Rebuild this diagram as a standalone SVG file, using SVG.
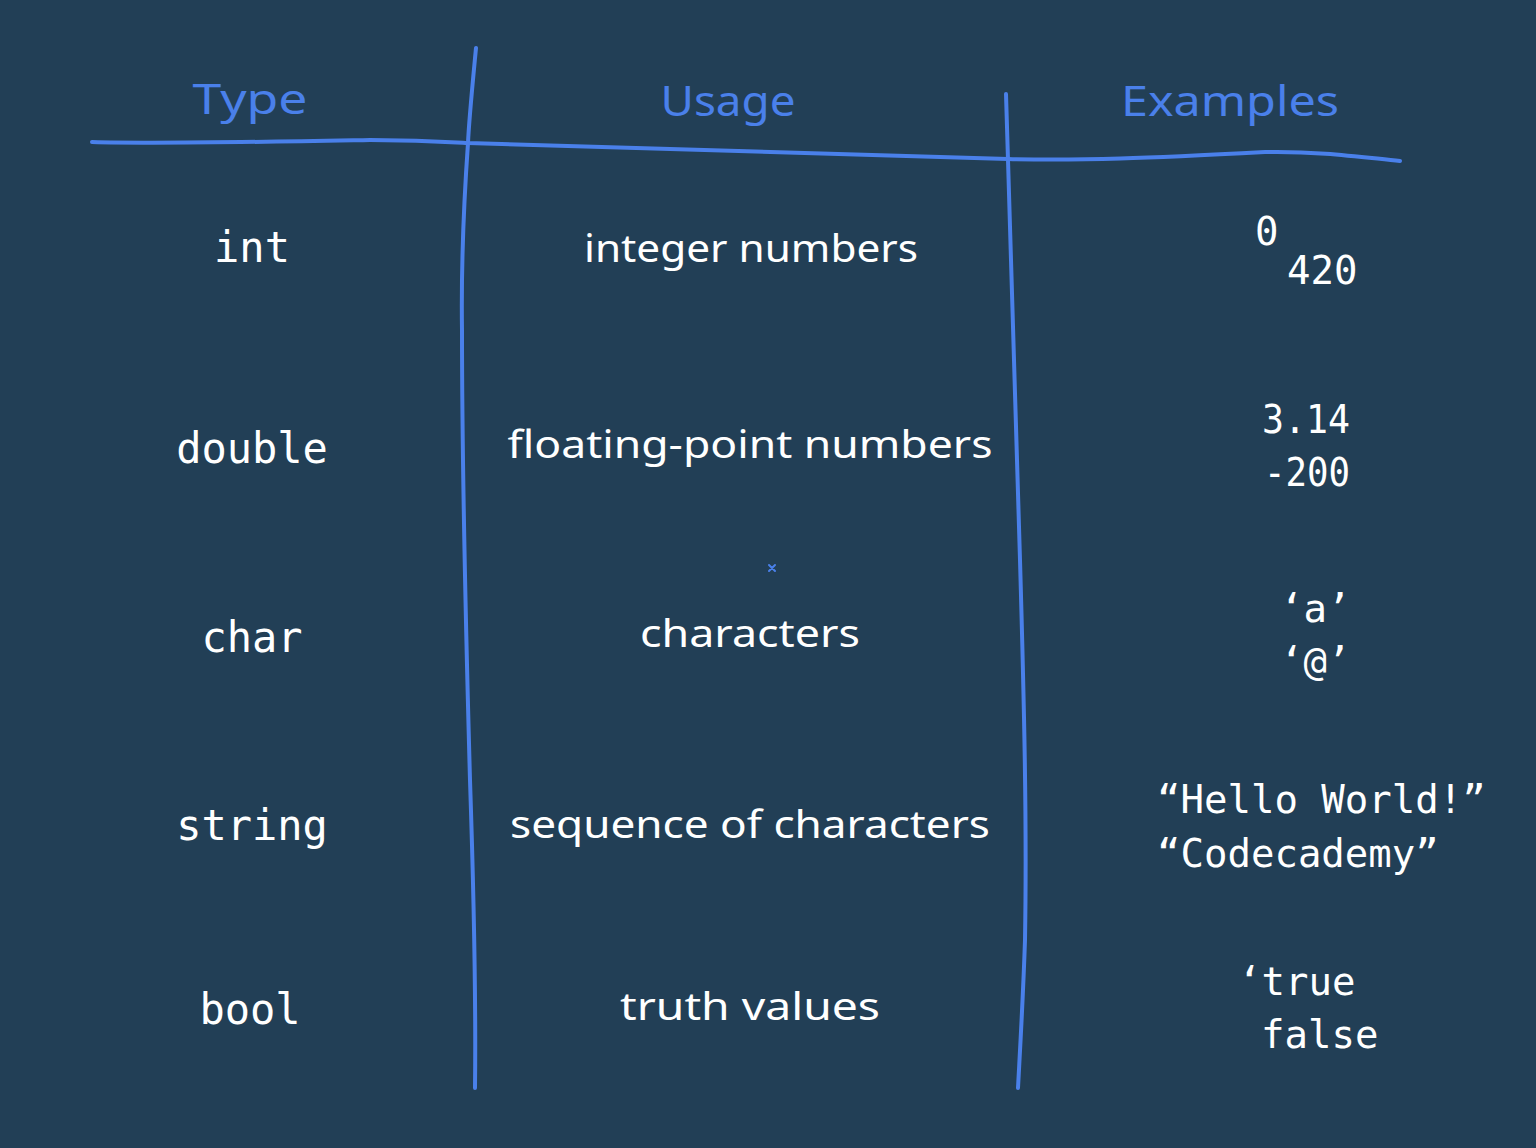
<svg xmlns="http://www.w3.org/2000/svg" width="1536" height="1148" viewBox="0 0 1536 1148">
<style>
.bg{fill:#223f56}
.ln{fill:none;stroke:#4a80ea;stroke-width:4;stroke-linecap:round;stroke-linejoin:round}
.hd{font-family:"Noto Sans","Liberation Sans",sans-serif;font-size:42px;fill:#4a80ea;text-anchor:middle}
.ty{font-family:"DejaVu Sans Mono","Liberation Mono",monospace;font-size:42px;fill:#ffffff;text-anchor:middle}
.us{font-family:"Noto Sans","Liberation Sans",sans-serif;font-size:38px;fill:#ffffff;text-anchor:middle}
.ex{font-family:"DejaVu Sans Mono","Liberation Mono",monospace;font-size:39px;fill:#ffffff}
</style>
<rect class="bg" x="0" y="0" width="1536" height="1148"/>
<g id="connectors">
<path class="ln" d="M92,142 C160,144 260,142 370,140 C420,140 450,142 468,143 L1008,159 C1080,161 1150,158 1265,152 C1320,151 1360,157 1400,161"/>
<path class="ln" d="M476,48 C472,90 469,120 468,143 C464,200 461,260 462,330 C462,450 465,600 470,780 C474,900 476,1000 475,1088"/>
<path class="ln" d="M1006,94 L1008,160 C1011,250 1015,380 1020,560 C1024,700 1027,820 1025,940 C1023,1000 1020,1050 1018,1088"/>
<path class="ln" d="M769,565 L775,571 M775,565 L769,571" style="stroke-width:2"/>
</g>
<g id="header-type"><text class="hd" x="250" y="114" textLength="115" lengthAdjust="spacingAndGlyphs">Type</text></g>
<g id="header-usage"><text class="hd" x="728" y="116" textLength="135" lengthAdjust="spacingAndGlyphs">Usage</text></g>
<g id="header-examples"><text class="hd" x="1230" y="116" textLength="218" lengthAdjust="spacingAndGlyphs">Examples</text></g>

<g id="row-int">
<text class="ty" x="252" y="262">int</text>
<text class="us" x="751" y="262" textLength="334" lengthAdjust="spacingAndGlyphs">integer numbers</text>
<text class="ex" x="1255" y="245">0</text>
<text class="ex" x="1287" y="284">420</text>
</g>
<g id="row-double">
<text class="ty" x="252" y="463">double</text>
<text class="us" x="750" y="458" textLength="485" lengthAdjust="spacingAndGlyphs">floating-point numbers</text>
<text class="ex" x="1262" y="433" textLength="88" lengthAdjust="spacingAndGlyphs">3.14</text>
<text class="ex" x="1264" y="486" textLength="86" lengthAdjust="spacingAndGlyphs">-200</text>
</g>
<g id="row-char">
<text class="ty" x="252" y="652">char</text>
<text class="us" x="750" y="647" textLength="220" lengthAdjust="spacingAndGlyphs">characters</text>
<text class="ex" x="1280" y="622">‘a’</text>
<text class="ex" x="1280" y="675">‘@’</text>
</g>
<g id="row-string">
<text class="ty" x="252" y="840">string</text>
<text class="us" x="750" y="838" textLength="480" lengthAdjust="spacingAndGlyphs">sequence of characters</text>
<text class="ex" x="1157" y="813">“Hello World!”</text>
<text class="ex" x="1157" y="867">“Codecademy”</text>
</g>
<g id="row-bool">
<text class="ty" x="250" y="1024">bool</text>
<text class="us" x="750" y="1020" textLength="260" lengthAdjust="spacingAndGlyphs">truth values</text>
<text class="ex" x="1238" y="995">‘true</text>
<text class="ex" x="1261" y="1048">false</text>
</g>
</svg>
